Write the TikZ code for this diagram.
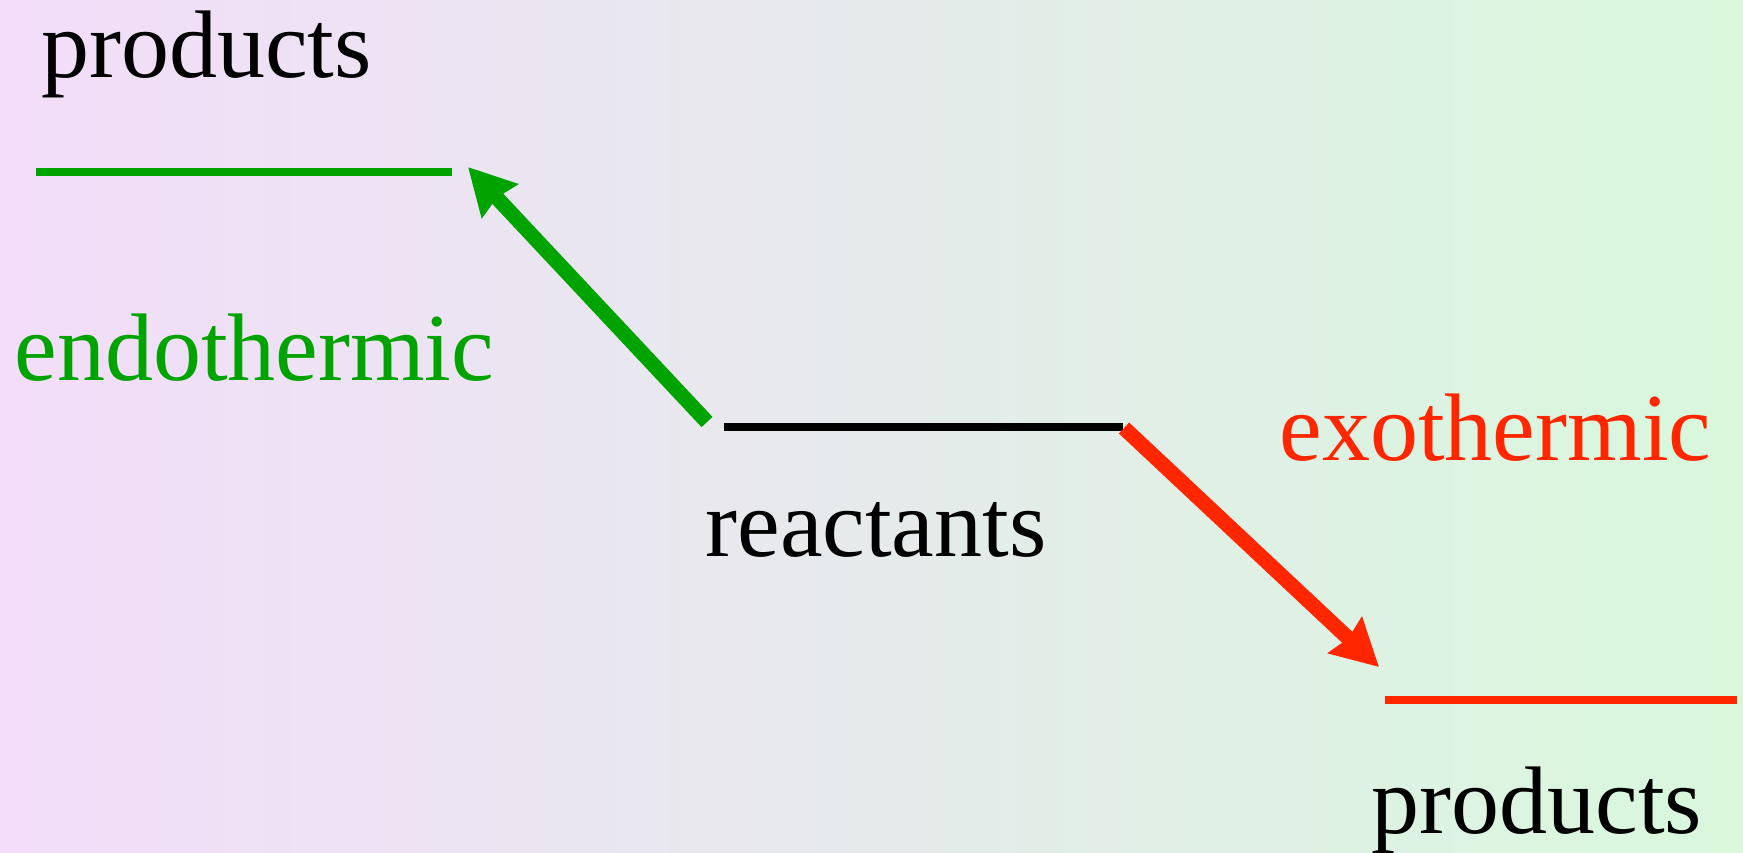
\documentclass[tikz,border=0pt]{standalone}
\usepackage{fontspec}
\setmainfont{Liberation Serif}
\usepackage{tikz}
\usetikzlibrary{arrows.meta}
\definecolor{endogreen}{RGB}{0,163,0}
\definecolor{exored}{RGB}{255,38,0}
\definecolor{bgleft}{RGB}{243,221,250}
\definecolor{bgright}{RGB}{216,248,220}

\begin{document}
\begin{tikzpicture}[x=0.5pt, y=-0.5pt,
    label/.style={anchor=base west, inner sep=0pt, font=\fontsize{48}{56}\selectfont},
    level/.style={line width=4pt},
    change/.style={line width=7.5pt, -{Stealth[length=23pt, width=24pt, inset=2pt]}}]
      % Background
      \useasboundingbox (0,0) rectangle (1743,852);
      \shade[left color=bgleft, right color=bgright] (0,0) rectangle (1743,852);

      % Energy levels
      \coordinate (endoL) at (36,172);
      \coordinate (endoR) at (452,172);
      \coordinate (reacL) at (724,427);
      \coordinate (reacR) at (1123,427);
      \coordinate (exoL) at (1385,700);
      \coordinate (exoR) at (1737,700);
      \draw[level, endogreen] (endoL) -- (endoR);
      \draw[level, black] (reacL) -- (reacR);
      \draw[level, exored] (exoL) -- (exoR);

      % Labels
      \node[label] (prodtop) at (41,77) {products};
      \node[label, endogreen] (endo) at (14,380) {endothermic};
      \node[label] (reac) at (705,556) {reactants};
      \node[label, exored] (exo) at (1279,460) {exothermic};
      \node[label] (prodbot) at (1371,833) {products};

      % Arrows
      \coordinate (endoTail) at (707,422);
      \coordinate (endoTip) at (468,167);
      \coordinate (exoTail) at (1124,428);
      \coordinate (exoTip) at (1379,667);
      \draw[change, endogreen] (endoTail) -- (endoTip);
      \draw[change, exored] (exoTail) -- (exoTip);
    \end{tikzpicture}
\end{document}
